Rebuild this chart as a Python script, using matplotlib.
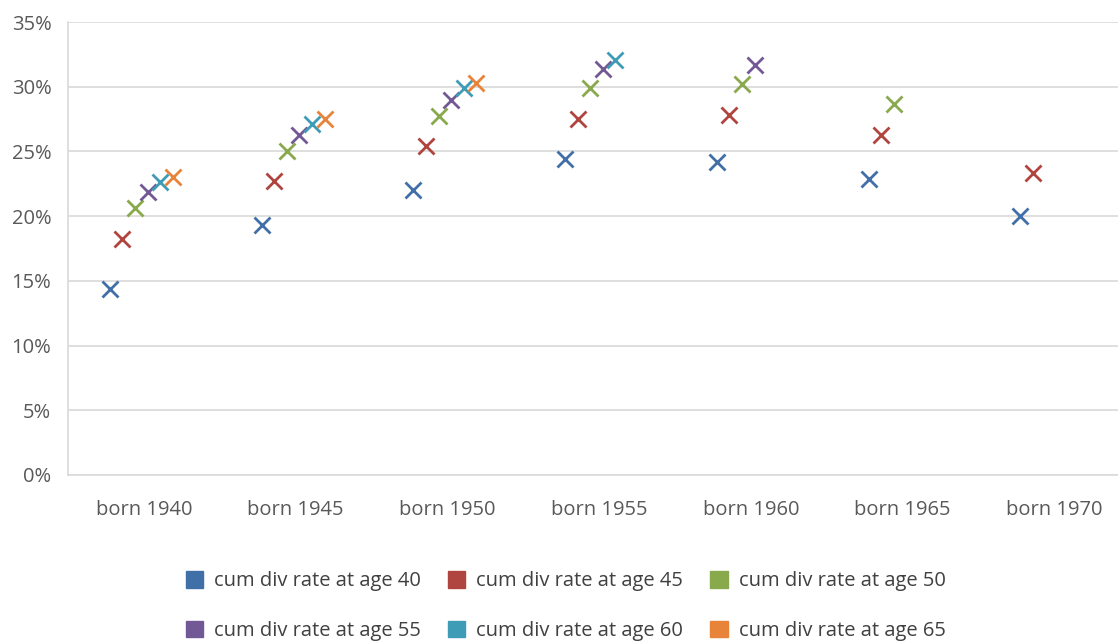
import matplotlib.pyplot as plt
from matplotlib.patches import Patch
from matplotlib.ticker import PercentFormatter

# Data
cohorts = ['born 1940', 'born 1945', 'born 1950', 'born 1955', 'born 1960', 'born 1965', 'born 1970']
series_names = ['cum div rate at age 40', 'cum div rate at age 45', 'cum div rate at age 50',
                'cum div rate at age 55', 'cum div rate at age 60', 'cum div rate at age 65']
age40 = [14.4, 19.3, 22.0, 24.4, 24.2, 22.9, 20.0]
age45 = [18.2, 22.7, 25.4, 27.5, 27.8, 26.3, 23.3]
age50 = [20.6, 25.0, 27.7, 29.9, 30.2, 28.7]
age55 = [21.9, 26.3, 29.0, 31.4, 31.7]
age60 = [22.6, 27.1, 29.9, 32.1]
age65 = [23.0, 27.5, 30.3]
all_series = [age40, age45, age50, age55, age60, age65]

colors = ['#4170A8', '#B0443F', '#88A94C', '#725996', '#3F9CB6', '#E8843A']

plt.rcParams['font.family'] = ['Open Sans', 'DejaVu Sans']

fig = plt.figure(figsize=(11.18, 6.42), dpi=100)
ax = fig.add_axes([68 / 1118, 1 - 475 / 642, 1 - 68 / 1118, (475 - 22) / 642])

step = 0.083
for i, (vals, col) in enumerate(zip(all_series, colors)):
    xs = [k + (i - 2.7) * step for k in range(len(vals))]
    ax.plot(xs, vals, linestyle='none', marker='x', markersize=12,
            markeredgewidth=2.0, color=col, label=series_names[i])

ax.set_ylim(0, 35)
ax.set_xlim(-0.5, 6.42)
ax.set_yticks(range(0, 36, 5))
ax.yaxis.set_major_formatter(PercentFormatter(decimals=0))
ax.set_xticks(range(len(cohorts)))
ax.set_xticklabels(cohorts)
ax.tick_params(length=0, labelsize=14.5, colors='#595959')
ax.tick_params(axis='x', pad=18)
ax.tick_params(axis='y', pad=12)
ax.grid(axis='y', color='#D9D9D9', linewidth=1.2)
ax.set_axisbelow(True)
for s in ['top', 'right']:
    ax.spines[s].set_visible(False)
for s in ['left', 'bottom']:
    ax.spines[s].set_color('#D9D9D9')
    ax.spines[s].set_linewidth(1.2)

# legend filled row by row (matplotlib fills columns first)
order = [0, 3, 1, 4, 2, 5]
handles = [Patch(facecolor=colors[i], edgecolor=colors[i], label=series_names[i]) for i in order]
fig.legend(handles=handles, ncol=3, loc='center', bbox_to_anchor=(0.506, 0.056),
           frameon=False, fontsize=14.5, labelcolor='#404040', handlelength=0.85,
           handleheight=0.85, handletextpad=0.55, columnspacing=1.35, labelspacing=1.45)

plt.savefig('out.png', dpi=100)
